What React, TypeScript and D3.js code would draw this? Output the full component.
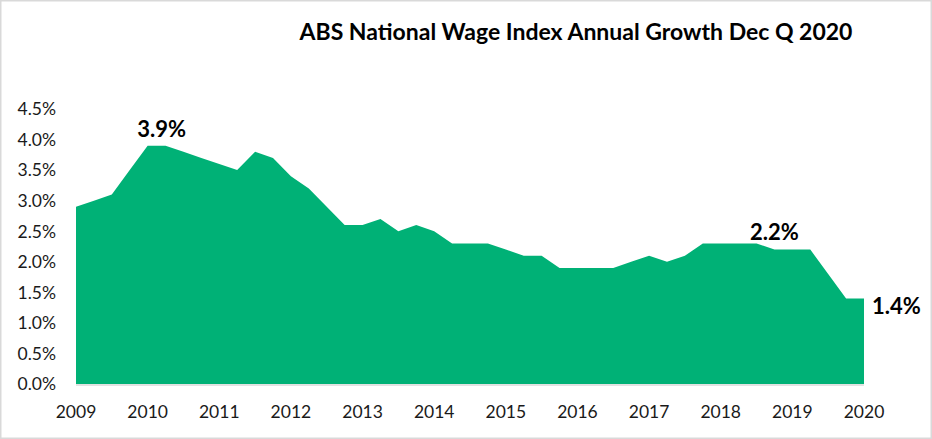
import React, { useRef, useEffect } from 'react';
import * as d3 from 'd3';

// Annual growth, Dec quarter 2009 to Dec quarter 2020 (%)
const quarters: string[] = d3.range(45).map((i) => {
  const m = ['Dec', 'Mar', 'Jun', 'Sep'][i % 4];
  const y = 2009 + Math.ceil(i / 4);
  return `${m}-${y}`;
});
const growth: number[] = [
  2.9, 3.0, 3.1, 3.5, 3.9, 3.9, 3.8, 3.7, 3.6, 3.5, 3.8, 3.7, 3.4, 3.2, 2.9,
  2.6, 2.6, 2.7, 2.5, 2.6, 2.5, 2.3, 2.3, 2.3, 2.2, 2.1, 2.1, 1.9, 1.9, 1.9,
  1.9, 2.0, 2.1, 2.0, 2.1, 2.3, 2.3, 2.3, 2.3, 2.2, 2.2, 2.2, 1.8, 1.4, 1.4,
];
const yearLabels: string[] = d3.range(2009, 2021).map(String);
const yTicks: number[] = [0, 0.5, 1, 1.5, 2, 2.5, 3, 3.5, 4, 4.5];
// annotated points: index into growth
const callouts: { idx: number; pos: 'top' | 'right' }[] = [
  { idx: 5, pos: 'top' },
  { idx: 39, pos: 'top' },
  { idx: 44, pos: 'right' },
];

const title = 'ABS National Wage Index Annual Growth Dec Q 2020';

const App: React.FC = () => {
  const svgRef = useRef<SVGSVGElement>(null);
  const width = 932;
  const height = 439;

  useEffect(() => {
    document.body.style.margin = '0';
    if (!svgRef.current) return;
    const svg = d3.select(svgRef.current);
    svg.selectAll('*').remove();

    const font = 'Lato, "Open Sans", sans-serif';
    const green = '#00B176';

    // chart border
    svg
      .append('rect')
      .attr('x', 0.75)
      .attr('y', 0.75)
      .attr('width', width - 1.5)
      .attr('height', height - 1.5)
      .attr('fill', '#fff')
      .attr('stroke', '#d9d9d9')
      .attr('stroke-width', 1.5);

    const x = d3.scaleLinear().domain([0, quarters.length - 1]).range([76, 864]);
    const y = d3.scaleLinear().domain([0, 4.5]).range([384, 109]);

    // title
    svg
      .append('text')
      .attr('x', 576)
      .attr('y', 40)
      .attr('text-anchor', 'middle')
      .style('font-family', font)
      .style('font-weight', 700)
      .style('font-size', '23px')
      .style('fill', '#000')
      .text(title);

    // area
    const area = d3
      .area<number>()
      .x((_, i) => x(i))
      .y0(y(0))
      .y1((d) => y(d));

    svg
      .append('path')
      .datum(growth)
      .attr('d', area)
      .attr('fill', green);

    // baseline axis
    svg
      .append('line')
      .attr('x1', x(0))
      .attr('x2', x(quarters.length - 1))
      .attr('y1', y(0) + 1)
      .attr('y2', y(0) + 1)
      .attr('stroke', '#d9d9d9')
      .attr('stroke-width', 1.5);

    // y labels
    svg
      .append('g')
      .selectAll('text')
      .data(yTicks)
      .enter()
      .append('text')
      .attr('x', 56)
      .attr('y', (d) => y(d))
      .attr('dy', '0.36em')
      .attr('text-anchor', 'end')
      .style('font-family', font)
      .style('font-size', '17.5px')
      .style('fill', '#1a1a1a')
      .text((d) => `${d.toFixed(1)}%`);

    // x labels, one per year at each December quarter
    svg
      .append('g')
      .selectAll('text')
      .data(yearLabels)
      .enter()
      .append('text')
      .attr('x', (_, i) => x(i * 4))
      .attr('y', 418)
      .attr('text-anchor', 'middle')
      .style('font-family', font)
      .style('font-size', '17.5px')
      .style('fill', '#1a1a1a')
      .text((d) => d);

    // data callouts
    svg
      .append('g')
      .selectAll('text')
      .data(callouts)
      .enter()
      .append('text')
      .attr('x', (d) => (d.pos === 'right' ? x(d.idx) + 8 : x(d.idx) - (d.idx === 5 ? 4 : 0)))
      .attr('y', (d) => (d.pos === 'right' ? y(growth[d.idx]) + 8 : y(growth[d.idx]) - 17))
      .attr('dy', '0.36em')
      .attr('text-anchor', (d) => (d.pos === 'right' ? 'start' : 'middle'))
      .style('font-family', font)
      .style('font-weight', 700)
      .style('font-size', '22px')
      .style('fill', '#000')
      .text((d) => `${growth[d.idx].toFixed(1)}%`);
  }, []);

  return <svg ref={svgRef} width={width} height={height} style={{ display: 'block' }} />;
};

export default App;
